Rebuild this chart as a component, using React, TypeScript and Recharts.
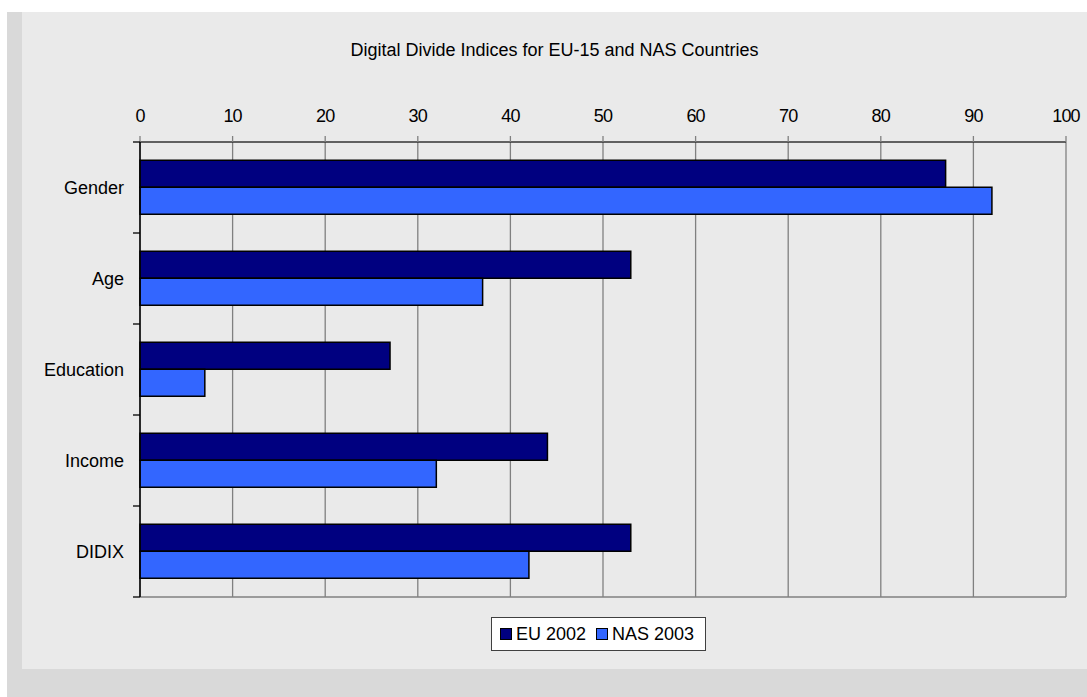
import React from 'react';
import {
  BarChart,
  Bar,
  XAxis,
  YAxis,
  CartesianGrid,
  Legend,
} from 'recharts';

// ---- data ----
const CATEGORIES = ['Gender', 'Age', 'Education', 'Income', 'DIDIX'];
const EU_2002 = [87, 53, 27, 44, 53];
const NAS_2003 = [92, 37, 7, 32, 42];
const X_TICKS = [0, 10, 20, 30, 40, 50, 60, 70, 80, 90, 100];

const TITLE = 'Digital Divide Indices for EU-15 and NAS Countries';

const SERIES = [
  { key: 'eu', name: 'EU 2002', color: '#000080' },
  { key: 'nas', name: 'NAS 2003', color: '#3366FF' },
];

const FONT = '"Liberation Sans", Arial, sans-serif';
const Y_TICK_SIZE = 8;
const Y_TICK_MARGIN = 8;

const chartData = CATEGORIES.map((name, i) => ({
  name,
  eu: EU_2002[i],
  nas: NAS_2003[i],
}));

function LegendBox() {
  return (
    <div
      style={{
        display: 'flex',
        alignItems: 'center',
        background: '#fff',
        border: '1px solid #404040',
        height: 32,
        padding: '0 11px 0 8px',
        fontFamily: FONT,
        fontSize: 18,
        color: '#000',
      }}
    >
      {SERIES.map((s, i) => (
        <div key={s.key} style={{ display: 'flex', alignItems: 'center', marginLeft: i ? 10 : 0 }}>
          <div
            style={{
              width: 10,
              height: 10,
              background: s.color,
              border: '1px solid #000',
              marginRight: 4,
            }}
          />
          <span>{s.name}</span>
        </div>
      ))}
    </div>
  );
}

// category label + Excel-style tick marks on the band boundaries
function CategoryTick(props: any) {
  const { x, y, payload, index, visibleTicksCount } = props;
  const half = payload?.offset ?? 0;
  const axisX = x + Y_TICK_SIZE + Y_TICK_MARGIN;
  const isLast = index === (visibleTicksCount ?? CATEGORIES.length) - 1;
  return (
    <g>
      {half > 0 && (
        <line x1={axisX - 7} x2={axisX} y1={y - half} y2={y - half} stroke="#000" strokeWidth={1.3} />
      )}
      {half > 0 && isLast && (
        <line x1={axisX - 7} x2={axisX} y1={y + half} y2={y + half} stroke="#000" strokeWidth={1.3} />
      )}
      <text
        x={x}
        y={y}
        dy="0.355em"
        textAnchor="end"
        fill="#000"
        fontSize={18}
        fontFamily={FONT}
      >
        {payload.value}
      </text>
    </g>
  );
}

export default function App() {
  return (
    <div
      style={{
        position: 'absolute',
        left: 0,
        top: 0,
        width: 1087,
        height: 697,
        background: '#ffffff',
        overflow: 'hidden',
      }}
    >
      {/* outer frame */}
      <div
        style={{
          position: 'absolute',
          left: 7,
          top: 12,
          width: 1080,
          height: 685,
          background: '#d9d9d9',
        }}
      />
      {/* chart panel */}
      <div
        style={{
          position: 'absolute',
          left: 22,
          top: 12,
          width: 1065,
          height: 657,
          background: '#eaeaea',
        }}
      >
        <div
          style={{
            position: 'absolute',
            left: 0,
            top: 28,
            width: 1065,
            textAlign: 'center',
            fontFamily: FONT,
            fontSize: 18,
            color: '#000',
          }}
        >
          {TITLE}
        </div>

        <BarChart
          width={1065}
          height={657}
          data={chartData}
          layout="vertical"
          margin={{ top: 60, right: 21, bottom: 72, left: 0 }}
          barCategoryGap="20%"
          barGap={0}
        >
          <CartesianGrid
            stroke="#808080"
            strokeWidth={1.3}
            horizontal
            horizontalCoordinatesGenerator={({ offset }: any) => [offset.top + offset.height]}
          />
          <XAxis
            type="number"
            orientation="top"
            domain={[0, 100]}
            ticks={X_TICKS}
            interval={0}
            height={70}
            tickSize={6}
            tickMargin={14}
            axisLine={{ stroke: '#333333', strokeWidth: 1.5 }}
            tickLine={{ stroke: '#808080', strokeWidth: 1.3 }}
            tick={{ fill: '#000', fontSize: 18, fontFamily: FONT, letterSpacing: -0.8 }}
          />
          <YAxis
            type="category"
            dataKey="name"
            width={118}
            interval={0}
            tickLine={false}
            tickSize={Y_TICK_SIZE}
            tickMargin={Y_TICK_MARGIN}
            axisLine={{ stroke: '#000', strokeWidth: 1.5 }}
            tick={<CategoryTick />}
          />
          <Legend
            layout="horizontal"
            verticalAlign="middle"
            align="center"
            wrapperStyle={{ left: 469, top: 605, width: 'auto' }}
            content={() => <LegendBox />}
          />
          {SERIES.map((s) => (
            <Bar
              key={s.key}
              dataKey={s.key}
              name={s.name}
              fill={s.color}
              stroke="#000"
              strokeWidth={1.5}
              isAnimationActive={false}
            />
          ))}
        </BarChart>
      </div>
    </div>
  );
}
